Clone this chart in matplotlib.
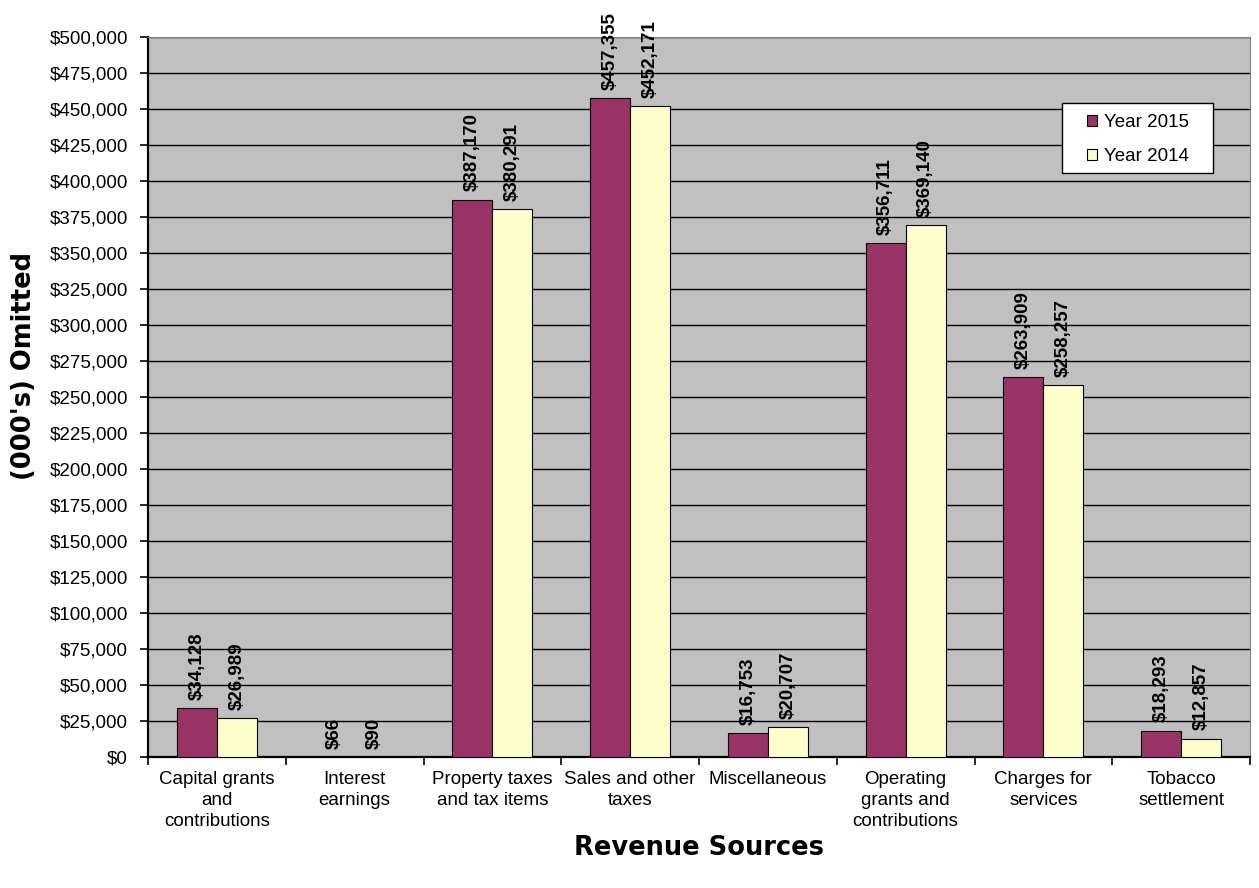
import matplotlib.pyplot as plt
import numpy as np
from matplotlib.ticker import FuncFormatter, MultipleLocator
from matplotlib.patches import Rectangle

plt.rcParams['font.family'] = ['Liberation Sans', 'DejaVu Sans']

categories = ["Capital grants\nand\ncontributions", "Interest\nearnings",
              "Property taxes\nand tax items", "Sales and other\ntaxes",
              "Miscellaneous", "Operating\ngrants and\ncontributions",
              "Charges for\nservices", "Tobacco\nsettlement"]
year_2015 = [34128, 66, 387170, 457355, 16753, 356711, 263909, 18293]
year_2014 = [26989, 90, 380291, 452171, 20707, 369140, 258257, 12857]

fig = plt.figure(figsize=(12.59, 8.88), dpi=100)
ax = fig.add_axes([0.1176, 0.1475, 0.8753, 0.8108])
ax.set_facecolor("#C0C0C0")

x = np.arange(len(categories))
w = 0.29
b1 = ax.bar(x - w / 2, year_2015, w, color="#993366", edgecolor="black", lw=0.8, label="Year 2015", zorder=3)
b2 = ax.bar(x + w / 2, year_2014, w, color="#FFFFCC", edgecolor="black", lw=0.8, label="Year 2014", zorder=3)

for bars, vals in ((b1, year_2015), (b2, year_2014)):
    for r, v in zip(bars, vals):
        ax.annotate(f"${v:,}", (r.get_x() + r.get_width() / 2, v), xytext=(0, 6),
                    textcoords="offset points", rotation=90, ha="center", va="bottom",
                    fontsize=13.5, fontweight="bold", zorder=4)

ax.set_xlim(-0.5, len(categories) - 0.5)
ax.set_ylim(0, 500000)
ax.yaxis.set_major_locator(MultipleLocator(25000))
ax.yaxis.set_major_formatter(FuncFormatter(lambda v, p: f"${int(v):,}"))
ax.grid(axis="y", color="black", lw=1.0, zorder=1)
ax.set_xticks(np.arange(-0.5, len(categories), 1.0), minor=False)
ax.set_xticklabels([])
ax.set_xticks(x, minor=True)
ax.set_xticklabels(categories, minor=True, fontsize=13.5, linespacing=1.3)
ax.tick_params(axis="x", which="minor", length=0, pad=10)
ax.tick_params(axis="x", which="major", length=6, width=1.2, direction="out")
ax.tick_params(axis="y", labelsize=13.5, length=6, width=1.2, pad=8.5, direction="out")
for s in ["top", "right"]:
    ax.spines[s].set_color("#808080")
for s in ["left", "bottom"]:
    ax.spines[s].set_linewidth(1.6)

ax.set_ylabel("(000's) Omitted", fontsize=18.5, fontweight="bold", family="DejaVu Sans")
ax.yaxis.set_label_coords(-0.1008, 0.543)
ax.set_xlabel("Revenue Sources", fontsize=18.5, fontweight="bold", family="DejaVu Sans")
ax.xaxis.set_label_coords(0.5, -0.108)

# legend: frameless entries inside a hand-placed box
ax.add_patch(Rectangle((0.8294, 0.8111), 0.1370, 0.0972, transform=ax.transAxes,
                       facecolor="white", edgecolor="black", lw=1.0, zorder=5))
leg = ax.legend(loc="upper left", bbox_to_anchor=(0.852, 0.8928), fontsize=13.5, frameon=False,
                handlelength=0.55, handleheight=0.55, labelspacing=0.9, borderpad=0,
                borderaxespad=0, handletextpad=0.35)
leg.set_zorder(6)

fig.savefig("out.png", dpi=100)
